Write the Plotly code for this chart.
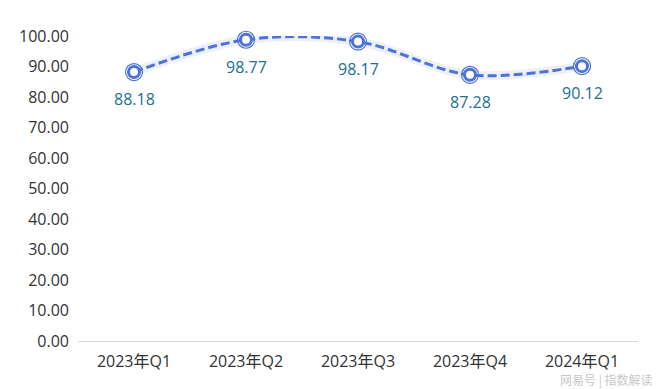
import plotly.graph_objects as go

categories = ["2023年Q1", "2023年Q2", "2023年Q3", "2023年Q4", "2024年Q1"]
values = [88.18, 98.77, 98.17, 87.28, 90.12]
value_labels = ["88.18", "98.77", "98.17", "87.28", "90.12"]
y_ticks = [0, 10, 20, 30, 40, 50, 60, 70, 80, 90, 100]

LINE = "#4d72d8"
FONT = "Open Sans, Noto Sans CJK SC, sans-serif"

fig = go.Figure()
# soft glow under the line
fig.add_trace(go.Scatter(x=categories, y=values, mode="lines",
                         line=dict(color="rgba(74,111,214,0.10)", width=9, shape="spline", smoothing=1.0),
                         hoverinfo="skip", showlegend=False))
fig.add_trace(go.Scatter(x=categories, y=values, mode="lines",
                         line=dict(color=LINE, width=3, dash="9px,4px", shape="spline", smoothing=1.0),
                         showlegend=False))
# outer ring
fig.add_trace(go.Scatter(x=categories, y=values, mode="markers",
                         marker=dict(size=17, color="rgba(255,255,255,0)", line=dict(color=LINE, width=1.2)),
                         showlegend=False, cliponaxis=False))
fig.add_trace(go.Scatter(x=categories, y=values, mode="markers",
                         marker=dict(size=11, color="white", line=dict(color=LINE, width=3)),
                         showlegend=False, cliponaxis=False))

for c, v, t in zip(categories, values, value_labels):
    fig.add_annotation(x=c, y=v, text=t, showarrow=False, yshift=-27, yanchor="middle",
                       font=dict(size=16, color="#21708f", family=FONT))

fig.add_annotation(text="网易号 | 指数解读", xref="paper", yref="paper", x=1.03, y=-0.128,
                   xanchor="right", yanchor="middle", showarrow=False,
                   font=dict(size=12, color="#c8c8c8", family="Noto Sans CJK SC"))

fig.update_layout(
    width=652, height=381,
    margin=dict(l=70, r=22, t=28, b=48),
    plot_bgcolor="white", paper_bgcolor="white",
    font=dict(family=FONT, color="#333333", size=15),
    xaxis=dict(range=[-0.5, 4.5], showgrid=False, showline=True, linecolor="#d9d9d9", linewidth=1,
               ticks="", tickfont=dict(size=16, color="#333333"), zeroline=False,
               ticklabelstandoff=6),
    yaxis=dict(range=[0, 100], tickvals=y_ticks, tickformat=".2f", showgrid=False, showline=False,
               zeroline=False, ticks="", tickfont=dict(size=16, color="#333333"),
               ticklabelstandoff=8),
)

fig.write_html("out.html")
